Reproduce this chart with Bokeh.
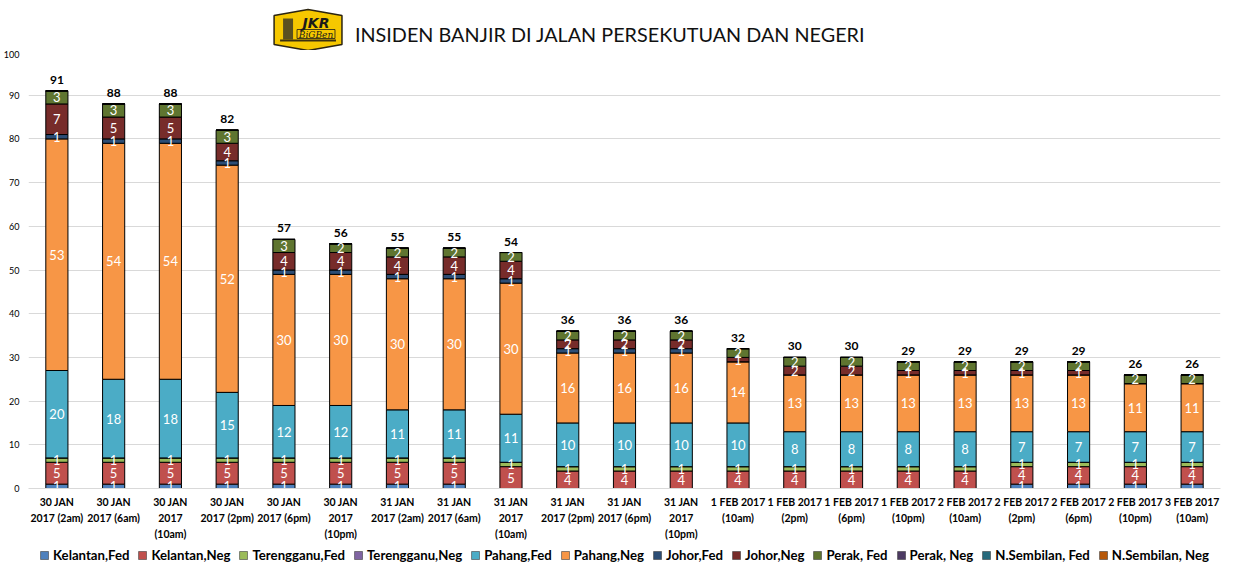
from bokeh.plotting import figure
from bokeh.models import ColumnDataSource, Legend, LegendItem, Range1d, FixedTicker, LinearAxis
from bokeh.layouts import column
from bokeh.embed import file_html
from bokeh.resources import INLINE
from bokeh.core.properties import value

# ---------------- data ----------------
categories = [
    "30 JAN\n2017 (2am)", "30 JAN\n2017 (6am)", "30 JAN\n2017\n(10am)", "30 JAN\n2017 (2pm)",
    "30 JAN\n2017 (6pm)", "30 JAN\n2017\n(10pm)", "31 JAN\n2017 (2am)", "31 JAN\n2017 (6am)",
    "31 JAN\n2017\n(10am)", "31 JAN\n2017 (2pm)", "31 JAN\n2017 (6pm)", "31 JAN\n2017\n(10pm)",
    "1 FEB 2017\n(10am)", "1 FEB 2017\n(2pm)", "1 FEB 2017\n(6pm)", "1 FEB 2017\n(10pm)",
    "2 FEB 2017\n(10am)", "2 FEB 2017\n(2pm)", "2 FEB 2017\n(6pm)", "2 FEB 2017\n(10pm)",
    "3 FEB 2017\n(10am)",
]
series_names = ["Kelantan,Fed", "Kelantan,Neg", "Terengganu,Fed", "Terengganu,Neg",
                "Pahang,Fed", "Pahang,Neg", "Johor,Fed", "Johor,Neg",
                "Perak, Fed", "Perak, Neg", "N.Sembilan, Fed", "N.Sembilan, Neg"]
series_colors = ["#4F81BD", "#C0504D", "#9BBB59", "#8064A2", "#4BACC6", "#F79646",
                 "#2C4D75", "#772C2A", "#5F7530", "#4D3B62", "#276A7C", "#B65708"]

kelantan_fed = [1, 1, 1, 1, 1, 1, 1, 1, 0, 0, 0, 0, 0, 0, 0, 0, 0, 1, 1, 1, 1]
kelantan_neg = [5, 5, 5, 5, 5, 5, 5, 5, 5, 4, 4, 4, 4, 4, 4, 4, 4, 4, 4, 4, 4]
terengganu_fed = [1, 1, 1, 1, 1, 1, 1, 1, 1, 1, 1, 1, 1, 1, 1, 1, 1, 1, 1, 1, 1]
terengganu_neg = [0, 0, 0, 0, 0, 0, 0, 0, 0, 0, 0, 0, 0, 0, 0, 0, 0, 0, 0, 0, 0]
pahang_fed = [20, 18, 18, 15, 12, 12, 11, 11, 11, 10, 10, 10, 10, 8, 8, 8, 8, 7, 7, 7, 7]
pahang_neg = [53, 54, 54, 52, 30, 30, 30, 30, 30, 16, 16, 16, 14, 13, 13, 13, 13, 13, 13, 11, 11]
johor_fed = [1, 1, 1, 1, 1, 1, 1, 1, 1, 1, 1, 1, 0, 0, 0, 0, 0, 0, 0, 0, 0]
johor_neg = [7, 5, 5, 4, 4, 4, 4, 4, 4, 2, 2, 2, 1, 2, 2, 1, 1, 1, 1, 0, 0]
perak_fed = [3, 3, 3, 3, 3, 2, 2, 2, 2, 2, 2, 2, 2, 2, 2, 2, 2, 2, 2, 2, 2]
perak_neg = [0, 0, 0, 0, 0, 0, 0, 0, 0, 0, 0, 0, 0, 0, 0, 0, 0, 0, 0, 0, 0]
nsembilan_fed = [0, 0, 0, 0, 0, 0, 0, 0, 0, 0, 0, 0, 0, 0, 0, 0, 0, 0, 0, 0, 0]
nsembilan_neg = [0, 0, 0, 0, 0, 0, 0, 0, 0, 0, 0, 0, 0, 0, 0, 0, 0, 0, 0, 0, 0]

title_text = "INSIDEN BANJIR DI JALAN PERSEKUTUAN DAN NEGERI"

series_values = [kelantan_fed, kelantan_neg, terengganu_fed, terengganu_neg,
                 pahang_fed, pahang_neg, johor_fed, johor_neg,
                 perak_fed, perak_neg, nsembilan_fed, nsembilan_neg]

FONT = "Lato"
W = 1230
HEADER_H = 50
MAIN_H = 492
LEGEND_H = 26
FRAME_L, FRAME_R = 26, 1220  # approx. pixel span of the aligned frames


def bare(fig):
    fig.grid.visible = False
    fig.outline_line_color = None
    fig.background_fill_color = "white"


# ---------------- header (logo + title) ----------------
h = figure(width=W, height=HEADER_H, x_range=Range1d(FRAME_L, FRAME_R), y_range=Range1d(HEADER_H, 0),
           output_backend="svg", toolbar_location=None, min_border=0,
           x_axis_location=None, y_axis_location=None)
bare(h)

lx, ly, lw, lh = 272, 9, 68, 41
h.patch([lx, lx + lw / 2, lx + lw, lx + lw, lx + lw / 2, lx],
        [ly + 6, ly, ly + 6, ly + lh - 6, ly + lh, ly + lh - 6],
        fill_color="#F6C800", line_color="#2B2410", line_width=1.5)
h.quad(left=[lx + 9], right=[lx + 19], top=[ly + 9], bottom=[ly + 30],
       fill_color="#5A5020", line_color=None)
h.quad(left=[lx + 6], right=[lx + 62], top=[ly + 30], bottom=[ly + 32],
       fill_color="#3A3010", line_color=None)
h.text(x=[lx + 42], y=[ly + 13], text=["JKR"], text_font=value("DejaVu Sans"),
       text_font_style="bold italic", text_font_size="14px", text_color="#1A1A1A",
       text_align="center", text_baseline="middle")
h.quad(left=[lx + 23], right=[lx + 61], top=[ly + 20], bottom=[ly + 29],
       fill_color=None, line_color="#1A1A1A", line_width=0.8)
h.text(x=[lx + 42], y=[ly + 25], text=["BiGBen"], text_font=value("DejaVu Serif"),
       text_font_style="italic", text_font_size="9px", text_color="#1A1A1A",
       text_align="center", text_baseline="middle")
h.text(x=[353], y=[33], text=[title_text], text_font=value(FONT),
       text_font_size="19.8px", text_color="#111111", text_align="left", text_baseline="middle")

# ---------------- main chart ----------------
n = len(categories)
data = {"x": list(range(n))}
keys = []
for i, vals in enumerate(series_values):
    k = f"s{i}"
    keys.append(k)
    data[k] = vals
source = ColumnDataSource(data)

p = figure(width=W, height=MAIN_H, x_range=Range1d(-0.5, n - 0.5), y_range=Range1d(0, 100),
           output_backend="svg", toolbar_location=None, x_axis_location=None,
           min_border_top=1, min_border_left=2, min_border_right=W - FRAME_R, min_border_bottom=0)
p.outline_line_color = None
p.xgrid.visible = False
p.ygrid.grid_line_color = "#D9D9D9"
p.ygrid.grid_line_width = 1

renderers = p.vbar_stack(keys, x="x", width=0.39, color=series_colors, source=source,
                         line_color="black", line_width=1)

# segment value labels
lx_, ly_, lt_ = [], [], []
for j in range(n):
    base = 0
    for vals in series_values:
        v = vals[j]
        if v > 0:
            lx_.append(j)
            ly_.append(base + v / 2)
            lt_.append(str(v))
        base += v
p.text(x=lx_, y=ly_, text=lt_, text_font=value(FONT), text_font_size="13px",
       text_color="white", text_align="center", text_baseline="middle")

# totals
totals = [sum(vals[j] for vals in series_values) for j in range(n)]
p.text(x=list(range(n)), y=totals, text=[str(t) for t in totals], text_font=value(FONT),
       text_font_size="12px", text_font_style="bold", text_color="black",
       text_align="center", text_baseline="bottom", y_offset=-7)

# y axis
p.yaxis.ticker = FixedTicker(ticks=list(range(0, 101, 10)))
p.yaxis.axis_line_color = None
p.yaxis.major_tick_line_color = None
p.yaxis.minor_tick_line_color = None
p.yaxis.major_label_text_font = FONT
p.yaxis.major_label_text_font_size = "9px"
p.yaxis.major_label_text_color = "black"
p.yaxis.major_label_standoff = 3

# x axis: one axis per label line (stacked)
lines = [c.split("\n") for c in categories]
for li in range(3):
    ax = LinearAxis(ticker=FixedTicker(ticks=list(range(n))),
                    major_label_overrides={i: (ln[li] if li < len(ln) else " ") for i, ln in enumerate(lines)})
    ax.axis_line_color = "#D9D9D9" if li == 0 else None
    ax.major_tick_line_color = None
    ax.minor_tick_line_color = None
    ax.major_tick_out = 0
    ax.major_tick_in = 0
    ax.major_label_text_font = FONT
    ax.major_label_text_font_size = "10.5px"
    ax.major_label_text_font_style = "bold"
    ax.major_label_text_color = "black"
    ax.major_label_standoff = 7 if li == 0 else 1
    p.add_layout(ax, "below")

# ---------------- legend strip ----------------
lg = figure(width=W, height=LEGEND_H, x_range=Range1d(0, 1), y_range=Range1d(0, 1),
            output_backend="svg", toolbar_location=None, min_border=0,
            x_axis_location=None, y_axis_location=None)
bare(lg)
# hidden proxy renderers (outside the visible range) that only feed the legend swatches
proxies = [lg.vbar(x=[-5], top=[-5], bottom=[-6], width=0.1, fill_color=c,
                   line_color="#404040", line_width=0.6) for c in series_colors]
legend = Legend(items=[LegendItem(label=nm, renderers=[r]) for nm, r in zip(series_names, proxies)],
                orientation="horizontal", location="center",
                label_text_font=FONT, label_text_font_size="13.2px", label_text_font_style="bold",
                label_text_color="black", glyph_width=10, glyph_height=10, label_standoff=4,
                spacing=8, padding=0, margin=0, border_line_color=None, background_fill_alpha=0)
lg.add_layout(legend, "center")

layout = column(h, p, lg, spacing=0)
open("out.html", "w").write(file_html(layout, INLINE))
